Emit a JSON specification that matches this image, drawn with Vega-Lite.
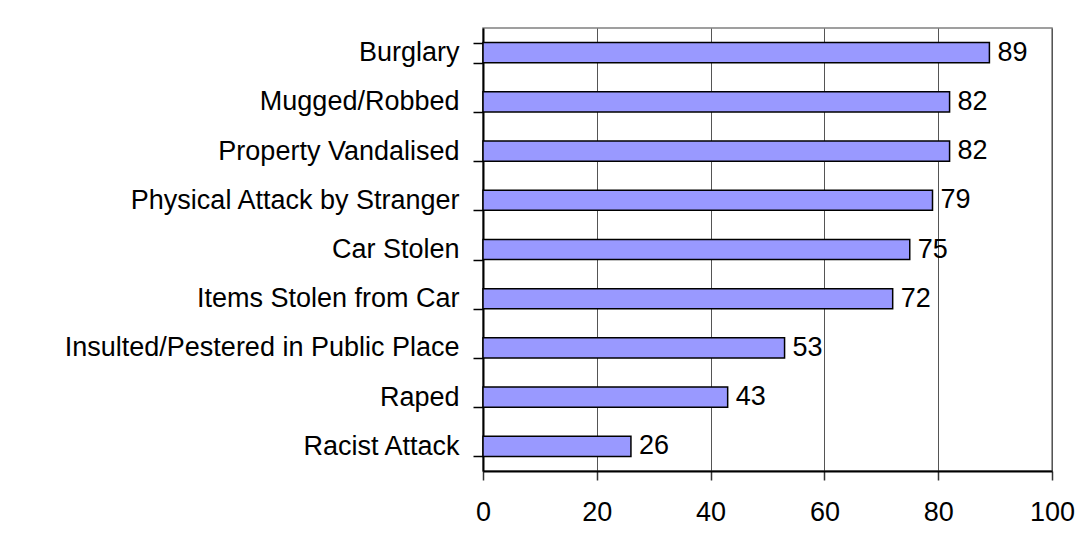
{
  "$schema": "https://vega.github.io/schema/vega-lite/v6.json",
  "autosize": "none",
  "width": 569,
  "height": 443,
  "padding": {"left": 483, "top": 28, "right": 36, "bottom": 79},
  "background": "white",
  "config": {
    "font": "Liberation Sans",
    "view": {"stroke": "#808080", "strokeWidth": 1.5},
    "axis": {"labelFont": "Liberation Sans", "labelFontSize": 27, "labelColor": "black", "labelLimit": 0}
  },
  "data": {
    "values": [
      {"crime": "Burglary", "value": 89},
      {"crime": "Mugged/Robbed", "value": 82},
      {"crime": "Property Vandalised", "value": 82},
      {"crime": "Physical Attack by Stranger", "value": 79},
      {"crime": "Car Stolen", "value": 75},
      {"crime": "Items Stolen from Car", "value": 72},
      {"crime": "Insulted/Pestered in Public Place", "value": 53},
      {"crime": "Raped", "value": 43},
      {"crime": "Racist Attack", "value": 26}
    ]
  },
  "encoding": {
    "y": {
      "field": "crime",
      "type": "nominal",
      "sort": null,
      "title": null,
      "scale": {"paddingInner": 0.59, "paddingOuter": 0.295},
      "axis": {
        "tickBand": "extent",
        "tickSize": 10,
        "tickColor": "black",
        "tickWidth": 1.5,
        "domainColor": "black",
        "domainWidth": 2,
        "labelPadding": 14,
        "grid": false
      }
    },
    "x": {
      "field": "value",
      "type": "quantitative",
      "title": null,
      "scale": {"domain": [0, 100], "nice": false},
      "axis": {
        "values": [0, 20, 40, 60, 80, 100],
        "tickSize": 9,
        "tickColor": "#333",
        "tickWidth": 1.5,
        "domainColor": "black",
        "domainWidth": 2,
        "labelPadding": 19,
        "grid": true,
        "gridColor": "#555",
        "gridWidth": 1,
        "labelFlush": false
      }
    }
  },
  "layer": [
    {
      "mark": {"type": "bar", "color": "#9999FF", "stroke": "black", "strokeWidth": 1.5}
    },
    {
      "mark": {"type": "text", "align": "left", "dx": 8, "fontSize": 27, "font": "Liberation Sans", "color": "black"},
      "encoding": {"text": {"field": "value", "type": "quantitative"}}
    }
  ]
}
